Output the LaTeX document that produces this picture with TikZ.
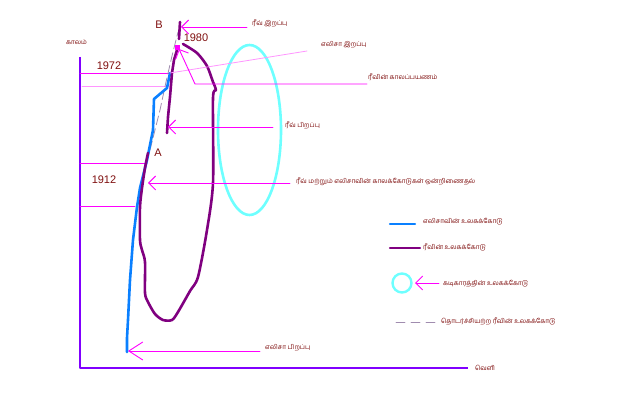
\documentclass[tikz,border=0pt]{standalone}
\usepackage{fontspec}
\setmainfont{Liberation Sans}
\newfontfamily\tamilfont[Script=Tamil]{Hind Madurai}
\usetikzlibrary{arrows.meta}
\definecolor{lbltext}{RGB}{128,16,16}
\definecolor{pinkline}{RGB}{255,0,255}
\definecolor{palepink}{RGB}{255,150,255}
\definecolor{elisablue}{RGB}{10,128,255}
\definecolor{reevepurple}{RGB}{128,0,128}
\definecolor{clockcyan}{RGB}{110,255,255}
\definecolor{axisviolet}{RGB}{128,0,255}
\definecolor{gapgray}{RGB}{160,140,175}

\begin{document}
\begin{tikzpicture}[x=1pt,y=-1pt,line join=round,line cap=round,
  lbl/.style={text=lbltext,font=\tamilfont\fontsize{6.5}{8}\selectfont,inner sep=0pt,anchor=west},
  yr/.style={text=lbltext,font=\fontsize{11}{12}\selectfont,inner sep=0pt},
  ptr/.style={pinkline,line width=0.9pt,-{Straight Barb[length=7pt,width=14pt,line width=0.9pt]}},
  yearline/.style={pinkline,line width=0.9pt},
  wl/.style={line width=2.6pt}]
\useasboundingbox (0,0) rectangle (640,419);
\fill[white] (0,0) rectangle (640,419);
% axes
\coordinate (o) at (80,368);\coordinate (tend) at (80,57);\coordinate (xend) at (468,368);
\draw[axisviolet,line width=2.2pt,line cap=butt] (tend)--(o)--(xend);
\node[lbl] (kaalam) at (66,42) {காலம்};\node[lbl] (veli) at (475,368) {வெளி};
% clock
\draw[clockcyan,line width=2.6pt] (249.5,130) ellipse (31.5 and 85);
% year marks
\draw[yearline] (80,73)--(171,73);\draw[palepink,line width=0.9pt] (82,86)--(170,86);
\draw[yearline] (80,163)--(147,163);\draw[yearline] (80,206)--(135,206);
\node[yr] (y1972) at (109,66) {1972};\node[yr] (y1912) at (104,180) {1912};
\node[yr] (y1980) at (196,38) {1980};
\node[yr] (ptA) at (158,153) {A};\node[yr] (ptB) at (159,25) {B};
% worldlines
\draw[gapgray,line width=0.8pt,dash pattern=on 9pt off 4pt] (150,150)--(160,110)--(166,82)--(172,56)--(178,32);
\draw[elisablue,wl] (127,352)--(127,338)--(128,320)--(130,280)--(133,240)--(137,207)--(140,188)--(147,160)--(153,130)--(154,99)--(167,88)--(170,73);
\draw[reevepurple,wl] plot[smooth,tension=0.45] coordinates {(148,153) (145,168) (142,188) (140,207) (140,240) (142,250) (145,262) (145,293) (148,302) (155,314) (163,320) (172,320) (178,312) (190,291) (198,277) (207,230) (213,183) (213,98) (216,90) (213,82) (207,66) (197,53) (183,44)};
\draw[reevepurple,wl] (167,133)--(168,117)--(170,97)--(172,73)--(174,60)--(177,50);
\draw[reevepurple,wl] (180,22)--(179,39);
\fill[pinkline] (175,45) rectangle (180,50);
% labels and pointers
\coordinate (rdeath) at (181,27);\coordinate (rdeathend) at (247,27);
\draw[ptr] (rdeathend)--(rdeath);\node[lbl] (rdeathlbl) at (252,23) {ரீவ் இறப்பு};
\coordinate (edeath) at (170,73);\coordinate (edeathend) at (307,51);
\draw[palepink,line width=0.8pt] (edeathend)--(edeath);\node[lbl] (edeathlbl) at (321,45) {எலிசா இறப்பு};
\coordinate (tt) at (179,49);\coordinate (ttbend) at (195,84);\coordinate (ttend) at (367,84);
\draw[ptr] (ttend)--(ttbend)--(tt);\node[lbl] (ttlbl) at (368,77) {ரீவின் காலப்பயணம்};
\coordinate (rbirth) at (168,127);\coordinate (rbirthend) at (273,127);
\draw[ptr] (rbirthend)--(rbirth);\node[lbl] (rbirthlbl) at (285,125) {ரீவ் பிறப்பு};
\coordinate (merge) at (148,183);\coordinate (mergeend) at (290,183);
\draw[ptr] (mergeend)--(merge);\node[lbl] (mergelbl) at (296,182) {ரீவ் மற்றும் எலிசாவின் காலக்கோடுகள் ஒன்றிணைதல்};
\coordinate (ebirth) at (128,351);\coordinate (ebirthend) at (260,351);
\draw[ptr,-{Straight Barb[length=14pt,width=18pt,line width=0.9pt]}] (ebirthend)--(ebirth);\node[lbl] (ebirthlbl) at (265,348) {எலிசா பிறப்பு};
% legend
\draw[elisablue,line width=2.2pt] (390,224)--(415,224);\node[lbl] (lgblue) at (423,222) {எலிசாவின் உலகக்கோடு};
\draw[reevepurple,line width=2.2pt] (390,248)--(420,248);\node[lbl] (lgpurple) at (423,247) {ரீவின் உலகக்கோடு};
\draw[clockcyan,line width=2.4pt] (402,283) circle (9.5);
\coordinate (lgclock) at (415,283);\coordinate (lgclockend) at (439,283);
\draw[ptr] (lgclockend)--(lgclock);\node[lbl] (lgclocklbl) at (443,284) {கடிகாரத்தின் உலகக்கோடு};
\draw[gapgray,line width=0.8pt,dash pattern=on 9pt off 6pt] (396,322)--(438,322);\node[lbl] (lggap) at (441,321) {தொடர்ச்சியற்ற ரீவின் உலகக்கோடு};
\end{tikzpicture}
\end{document}
